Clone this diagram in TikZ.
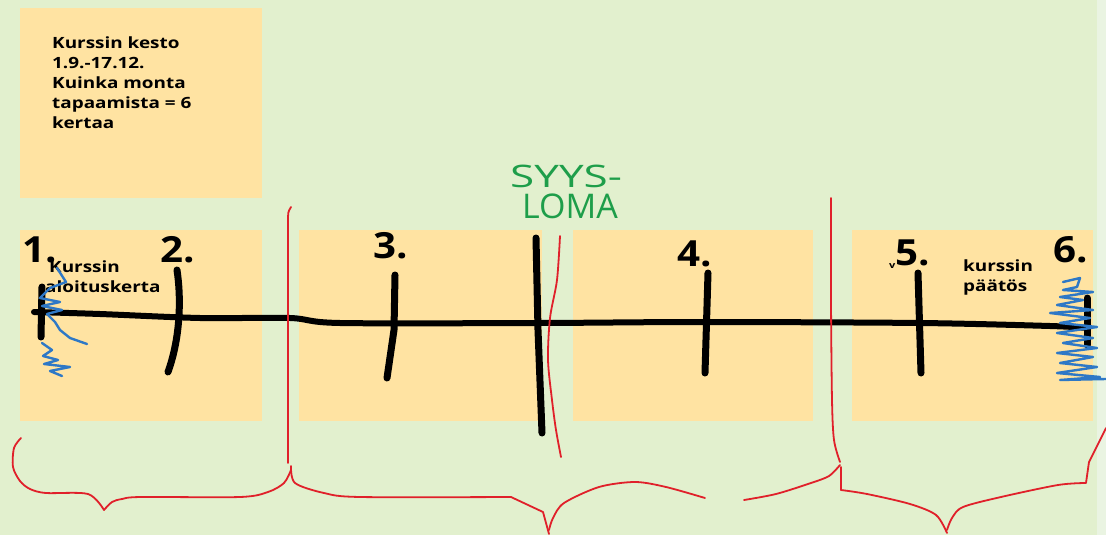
\documentclass[tikz,border=0pt]{standalone}
\usepackage{fontspec}
\usepackage{graphicx}
\setmainfont{Open Sans}
\newfontfamily\notefont[FakeStretch=1.22]{Open Sans}
\newfontfamily\numfont[FakeStretch=1.12]{Open Sans}
\definecolor{bgcol}{HTML}{E2F0CE}
\definecolor{stripcol}{HTML}{EAF4E2}
\definecolor{notecol}{HTML}{FFE3A2}
\definecolor{redcol}{HTML}{E0202A}
\definecolor{bluecol}{HTML}{2E78C6}
\definecolor{greencol}{HTML}{1E9E4A}
\tikzset{
  notebox/.style={fill=notecol, draw=none},
  notetext/.style={anchor=base west, inner sep=0pt, text=black, font=\notefont\bfseries\fontsize{15.5}{18}\selectfont},
  numtext/.style={anchor=base west, inner sep=0pt, text=black, font=\numfont\bfseries\fontsize{36}{40}\selectfont},
  handtext/.style={anchor=base west, inner sep=0pt, text=greencol},
  axisline/.style={draw=black, line width=6pt, line cap=round, line join=round},
  tickline/.style={draw=black, line width=7pt, line cap=round, line join=round},
  redline/.style={draw=redcol, line width=1.8pt, line cap=round, line join=round},
  scribble/.style={draw=bluecol, line width=2.4pt, line cap=round, line join=round}
}
\begin{document}
\begin{tikzpicture}[x=1pt,y=-1pt]
\useasboundingbox (0,0) rectangle (1106,535);
\fill[bgcol] (0,0) rectangle (1106,535);
\fill[stripcol] (1097,0) rectangle (1106,535);

% sticky notes
\fill[notebox] (20,8) rectangle (262,198);
\fill[notebox] (20,230) rectangle (262,421);
\fill[notebox] (299,230) rectangle (542,421);
\fill[notebox] (573,230) rectangle (813,421);
\fill[notebox] (852,230) rectangle (1093,421);

% top note text
\node[notetext] (t1) at (52,48.5) {Kurssin kesto};
\node[notetext] (t2) at (52,68.5) {1.9.-17.12.};
\node[notetext] (t3) at (52,88.5) {Kuinka monta};
\node[notetext] (t4) at (52,108.5) {tapaamista = 6};
\node[notetext] (t5) at (52,128.5) {kertaa};

% note texts on the timeline
\node[notetext] (start1) at (49,272) {Kurssin};
\node[notetext] (start2) at (45,292) {aloituskerta};
\node[notetext] (end1) at (963,271) {kurssin};
\node[notetext] (end2) at (963,291) {päätös};
\node[anchor=base west, inner sep=0pt, font=\notefont\bfseries\fontsize{9}{10}\selectfont] (vmark) at (889,268) {v};

% timeline
\draw[axisline] plot[smooth, tension=0.5] coordinates {(34,312) (100,314) (200,318) (290,318) (340,323) (540,323) (700,322) (920,323) (1050,326) (1088,328)};

% ticks
\draw[tickline] (42,287) -- (41,337);
\draw[tickline] (177,270) .. controls (181,296) and (181,336) .. (168,372);
\draw[tickline] (395,275) -- (394,330) -- (387,378);
\draw[tickline] (536,238) -- (538,330) -- (542,433);
\draw[tickline] (708,273) -- (705,373);
\draw[tickline] (918,273) -- (921,373);
\draw[tickline] (1087,298) -- (1087,345);

% numbers
\node[numtext] (n1) at (22,262) {1.};
\node[numtext] (n2) at (160,262) {2.};
\node[numtext] (n3) at (373,258) {3.};
\node[numtext] (n4) at (677,266) {4.};
\node[numtext] (n5) at (895,265) {5.};
\node[numtext] (n6) at (1053,262) {6.};

% autumn holiday
\node[handtext, font=\fontsize{31}{34}\selectfont] (syys) at (510,187) {\scalebox{1.42}[1]{SYYS-}};
\node[handtext, font=\fontsize{34}{38}\selectfont] (loma) at (522,218) {\scalebox{1.0}[1]{LOMA}};

% blue scribbles
\draw[scribble] (57,268) -- (66,282) -- (50,288) -- (40,298) -- (60,302) -- (42,306) -- (62,310) -- (47,314) -- (55,322) -- (60,330) -- (70,338) -- (87,344);
\draw[scribble] (42,343) -- (52,350) -- (43,356) -- (58,360) -- (44,364) -- (70,367) -- (50,371) -- (62,376);
\draw[scribble] (1063,282) -- (1080,278) -- (1077,287) -- (1063,290) -- (1093,292) -- (1060,297) -- (1083,300) -- (1057,305) -- (1093,310) -- (1050,313) -- (1090,318) -- (1060,323) -- (1097,327) -- (1057,333) -- (1093,338) -- (1063,343) -- (1097,348) -- (1057,353) -- (1093,357) -- (1060,363) -- (1097,367) -- (1057,373) -- (1100,377) -- (1060,380) -- (1106,379);

% red dividers
\draw[redline] (291,207) .. controls (288,212) .. (288,222) -- (288,463);
\draw[redline] plot[smooth] coordinates {(560,236) (557,280) (550,318) (548,360) (552,400) (556,430) (561,457)};
\draw[redline] plot[smooth] coordinates {(831,198) (831,300) (832,400) (834,440) (840,462)};

% red braces
\draw[redline] plot[smooth] coordinates {(21,438) (14,448) (13,467) (20,481) (30,489) (46,493) (88,494) (104,510)};
\draw[redline] plot[smooth] coordinates {(104,510) (112,502) (122,499) (141,497) (240,497) (268,492) (284,483) (291,470)};
\draw[redline] plot[smooth] coordinates {(291,466) (295,483) (324,493) (360,497) (511,497)} -- (543,512) -- (549,534);
\draw[redline] plot[smooth] coordinates {(549,530) (553,518) (564,503) (599,487) (635,482) (666,487) (705,498)};
\draw[redline] plot[smooth] coordinates {(744,500) (776,494) (811,483) (829,476) (840,465)};
\draw[redline] (841,467) -- (841,490);
\draw[redline] plot[smooth] coordinates {(841,490) (867,494) (910,504) (936,515) (947,533)};
\draw[redline] plot[smooth] coordinates {(947,530) (952,518) (963,507) (1001,497) (1058,485) (1086,483)} -- (1089,462) -- (1106,428);
\end{tikzpicture}
\end{document}
